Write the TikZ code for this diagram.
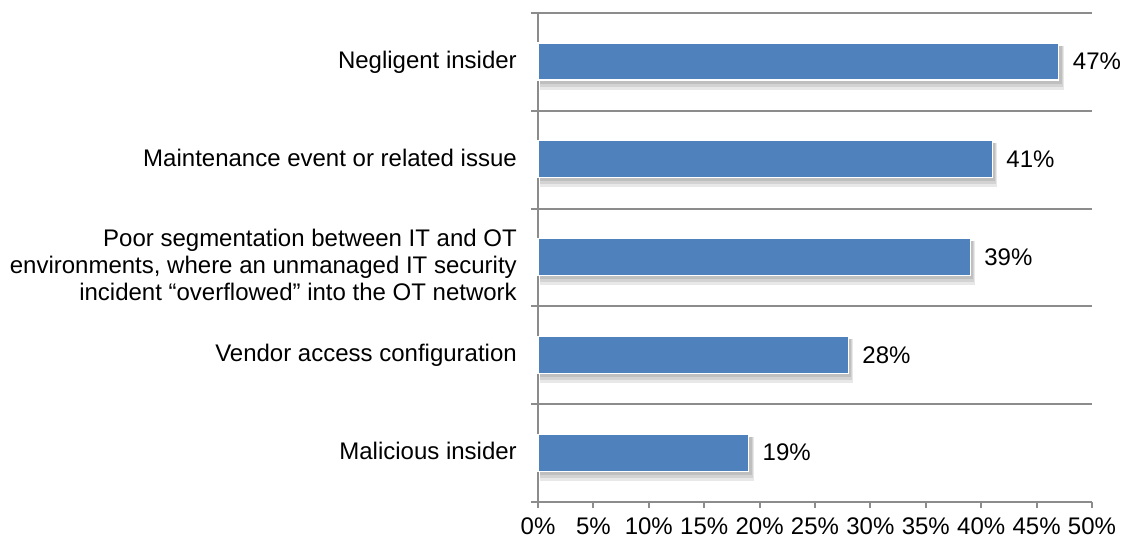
\documentclass[tikz,border=0pt]{standalone}
\usepackage{fontspec}
\setmainfont{Liberation Sans}
\definecolor{barblue}{HTML}{4F81BD}
\definecolor{axisgray}{HTML}{8C8C8C}
\newcommand{\pc}{11.08}
\begin{document}
\begin{tikzpicture}[x=1pt,y=-1pt,
  axis/.style={axisgray,line width=1.9pt},
  bar/.style={fill=barblue,draw=white,line width=1.2pt},
  shade/.style={fill=black,opacity=.09},
  lbl/.style={font=\fontsize{24}{27}\selectfont,inner sep=0pt}]
 \useasboundingbox[fill=white] (0,0) rectangle (1122,538);
 % separators and axes
 \foreach \k in {0,...,4} \draw[axis] (531,13+97.8*\k) -- (1092,13+97.8*\k);
 \draw[axis] (538,13) -- (538,508);
 \draw[axis] (531,502) -- (1092,502);
 \foreach \t in {5,10,...,50} \draw[axis] (538+\t*\pc,502) -- (538+\t*\pc,508);
 \foreach \t in {0,5,...,50}
   \node[lbl] (t\t) at (538+\t*\pc,526) {\t\%};
 %
 % bars with soft shadow
 \foreach \v/\i in {47/0,41/1,39/2,28/3,19/4} {
   \pgfmathsetmacro\yc{61.5+97.8*\i}
   \fill[shade] (540,\yc-16) rectangle (538+\v*\pc+5,\yc+28);
   \fill[shade] (540,\yc-16) rectangle (538+\v*\pc+4,\yc+25);
   \fill[shade] (540,\yc-16) rectangle (538+\v*\pc+3,\yc+22);
   \draw[bar] (538,\yc-18.5) rectangle (538+\v*\pc,\yc+18.5);
   \node[lbl,anchor=west] (v\i) at (538+\v*\pc+14,\yc) {\v\%};
 }
 %
 \node[lbl,anchor=base east] (c0) at (517,61.5+7) {Negligent insider};
 \node[lbl,anchor=base east] (c1) at (517,159.3+7) {Maintenance event or related issue};
 \node[lbl,anchor=east,align=right] (c2) at (517,257.1+8) {Poor segmentation between IT and OT\\environments, where an unmanaged IT security\\incident “overflowed” into the OT network};
 \node[lbl,anchor=base east] (c3) at (517,354.9+7) {Vendor access configuration};
 \node[lbl,anchor=base east] (c4) at (517,452.7+7) {Malicious insider};
\end{tikzpicture}
\end{document}
